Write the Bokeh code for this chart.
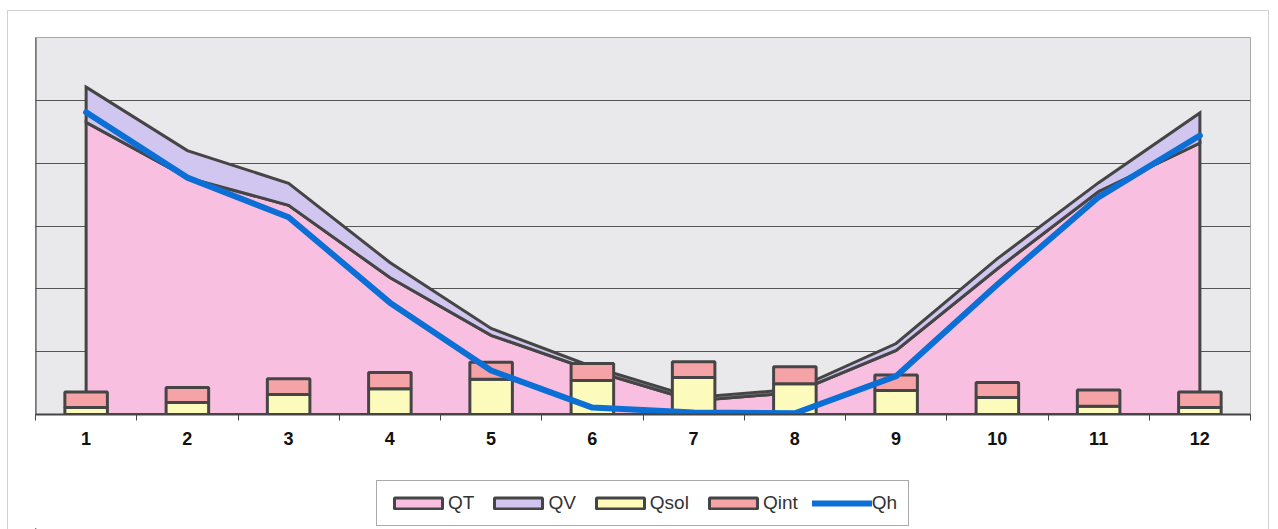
import numpy as np
from bokeh.plotting import figure
from bokeh.layouts import column
from bokeh.models import Range1d, FixedTicker, Legend, LegendItem, Span
from bokeh.embed import file_html
from bokeh.resources import INLINE

# ---- data (y in arbitrary units, one gridline = 10) ----
months = [1, 2, 3, 4, 5, 6, 7, 8, 9, 10, 11, 12]
month_labels = ["1", "2", "3", "4", "5", "6", "7", "8", "9", "10", "11", "12"]
qt = [46.5, 37.7, 33.3, 21.8, 12.6, 7.0, 2.2, 3.5, 10.2, 23.2, 35.5, 43.2]
qv = [5.6, 4.3, 3.5, 2.4, 1.1, 0.6, 0.5, 0.5, 1.1, 1.6, 1.4, 4.8]
qsol = [1.1, 1.9, 3.2, 4.1, 5.6, 5.4, 5.9, 4.9, 3.8, 2.7, 1.3, 1.1]
qint = [2.5, 2.4, 2.5, 2.6, 2.7, 2.7, 2.5, 2.7, 2.5, 2.4, 2.6, 2.5]
qh = [48.1, 37.7, 31.4, 17.8, 7.0, 1.1, 0.3, 0.2, 6.1, 20.7, 34.6, 44.4]
series_names = ["QT", "QV", "Qsol", "Qint", "Qh"]

C_QT = "#f8bfe0"
C_QV = "#d0c6ef"
C_SOL = "#fdfbbb"
C_INT = "#f6a3a8"
C_QH = "#0b6fd6"
C_EDGE = "#454545"

W = 1260
p = figure(width=W, height=449, output_backend="svg", toolbar_location=None,
           x_range=Range1d(0.5, 12.5), y_range=Range1d(0, 60),
           y_axis_location=None,
           min_border_left=27, min_border_right=18, min_border_top=26,
           min_border_bottom=46)
p.background_fill_color = "#e9e9eb"
p.border_fill_color = "white"
p.outline_line_color = "#a8a8a8"
p.outline_line_width = 1

# grid
p.xgrid.grid_line_color = None
p.ygrid.ticker = FixedTicker(ticks=[10, 20, 30, 40, 50, 60])
p.ygrid.grid_line_color = "#555555"
p.ygrid.grid_line_width = 1

# x axis
m = np.array(months, dtype=float)
p.xaxis.ticker = FixedTicker(ticks=months, minor_ticks=list(np.append(m - 0.5, m[-1] + 0.5)))
p.xaxis.major_label_overrides = {mm: lab for mm, lab in zip(months, month_labels)}
p.xaxis.major_tick_out = 0
p.xaxis.major_tick_in = 0
p.xaxis.minor_tick_out = 6
p.xaxis.minor_tick_in = 0
p.xaxis.minor_tick_line_color = C_EDGE
p.xaxis.axis_line_color = C_EDGE
p.xaxis.axis_line_width = 2
p.xaxis.major_label_text_font = "Liberation Sans"
p.xaxis.major_label_text_font_style = "bold"
p.xaxis.major_label_text_font_size = "18px"
p.xaxis.major_label_text_color = "#111111"
p.xaxis.major_label_standoff = 11

# left value axis line (the reference shows no value labels)
p.add_layout(Span(location=0.5, dimension="height", line_color=C_EDGE, line_width=2))

# QT area (pink, outlined)
qt_a = np.array(qt)
qv_top = qt_a + np.array(qv)
xs_qt = np.concatenate([[m[0]], m, [m[-1]]])
ys_qt = np.concatenate([[0.0], qt_a, [0.0]])
p.patch(xs_qt, ys_qt, fill_color=C_QT, line_color=C_EDGE, line_width=3, line_join="miter")

# QV band stacked on QT
xs_qv = np.concatenate([m, m[::-1]])
ys_qv = np.concatenate([qv_top, qt_a[::-1]])
p.patch(xs_qv, ys_qv, fill_color=C_QV, line_color=C_EDGE, line_width=3, line_join="miter")

# stacked bars Qsol + Qint
sol = np.array(qsol)
intl = np.array(qint)
p.vbar(x=m, width=0.42, bottom=0, top=sol, fill_color=C_SOL, line_color=C_EDGE, line_width=3)
p.vbar(x=m, width=0.42, bottom=sol, top=sol + intl, fill_color=C_INT, line_color=C_EDGE, line_width=3)

# Qh line
p.line(m, qh, line_color=C_QH, line_width=6, line_join="round", line_cap="round")

# ---- legend strip below the chart (proxy glyphs lie outside its visible range) ----
q = figure(width=W, height=69, output_backend="svg", toolbar_location=None,
           x_range=Range1d(0, 1), y_range=Range1d(0, 1),
           x_axis_location=None, y_axis_location=None,
           min_border_left=0, min_border_right=0, min_border_top=0, min_border_bottom=0)
q.xgrid.grid_line_color = None
q.ygrid.grid_line_color = None
q.outline_line_color = None
q.background_fill_color = "white"
q.border_fill_color = "white"

off = [-5.0, -4.0, -4.0]
l_qt = q.patch(off, off[::-1], fill_color=C_QT, line_color=C_EDGE, line_width=3)
l_qv = q.patch(off, off[::-1], fill_color=C_QV, line_color=C_EDGE, line_width=3)
l_sol = q.vbar(x=off[:1], top=off[1:2], bottom=off[:1], width=0.1,
               fill_color=C_SOL, line_color=C_EDGE, line_width=3)
l_int = q.vbar(x=off[:1], top=off[1:2], bottom=off[:1], width=0.1,
               fill_color=C_INT, line_color=C_EDGE, line_width=3)
l_qh = q.line(off[:2], off[:2], line_color=C_QH, line_width=6, line_cap="round")

legend = Legend(items=[
    LegendItem(label=series_names[0], renderers=[l_qt]),
    LegendItem(label=series_names[1], renderers=[l_qv]),
    LegendItem(label=series_names[2], renderers=[l_sol]),
    LegendItem(label=series_names[3], renderers=[l_int]),
    LegendItem(label=series_names[4], renderers=[l_qh]),
], orientation="horizontal", location=(341, 3))
legend.label_text_font = "Liberation Sans"
legend.label_text_font_size = "19px"
legend.label_text_color = "#333333"
legend.glyph_width = 60
legend.glyph_height = 14
legend.label_standoff = 0
legend.spacing = 14
legend.padding = 11
legend.margin = 0
legend.border_line_color = "#555555"
legend.border_line_width = 1
legend.background_fill_color = "white"
legend.background_fill_alpha = 1
q.add_layout(legend, "center")

layout = column(p, q, spacing=0, margin=(10, 0, 0, 7),
                styles={"border": "1px solid #d2d2d2", "border-bottom": "none"})
open("out.html", "w").write(file_html(layout, INLINE))
